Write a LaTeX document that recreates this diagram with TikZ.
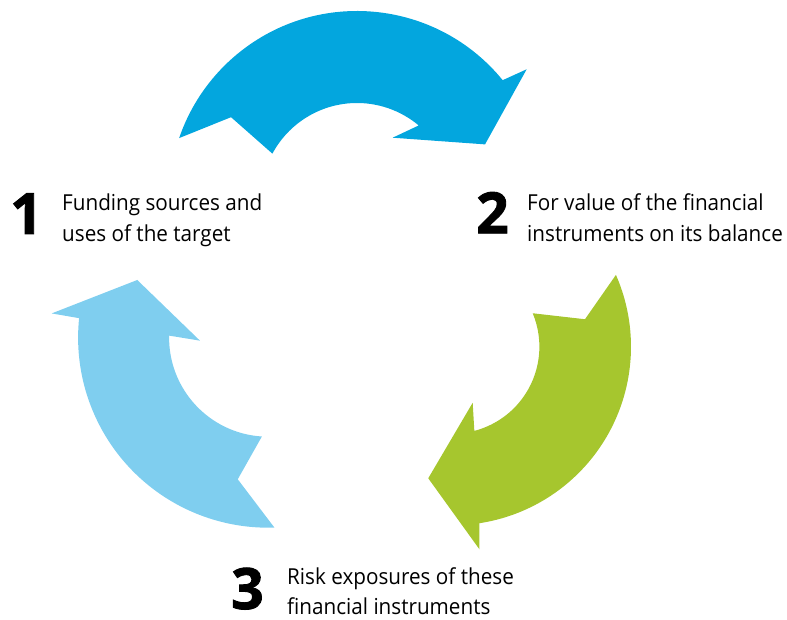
\documentclass[tikz,border=0pt]{standalone}
\usepackage{fontspec}
\setmainfont{Open Sans}
\newfontfamily\labelfont[FakeStretch=0.94]{Open Sans}
\newfontfamily\numfont[FakeBold=1.6]{Open Sans}
\definecolor{topblue}{RGB}{3,166,222}
\definecolor{lightblue}{RGB}{127,206,239}
\definecolor{leafgreen}{RGB}{166,198,46}
\begin{document}
\begin{tikzpicture}[x=1pt,y=1pt,
  numlabel/.style={anchor=base west,inner sep=0pt,font=\numfont\fontsize{57}{57}\selectfont\bfseries},
  txtlabel/.style={anchor=base west,inner sep=0pt,font=\labelfont\fontsize{22}{30}\selectfont}]
\useasboundingbox (0,0) rectangle (787,620);
% top arrow (1 -> 2)
\fill[topblue,shift={(357,421)}] (161.1:188) -- (147:150.2) -- (151.8:96)
  arc[start angle=151.8,end angle=50,radius=96] -- (59.8:70.9) -- (23.1:139.2)
  -- (37.4:213.6) -- (39.2:188) arc[start angle=39.2,end angle=161.1,radius=188] -- cycle;
% right arrow (2 -> 3)
\fill[leafgreen,shift={(452.4,273.3)}] (23.7:178.6) -- (11.7:135.4) -- (22.6:87)
  arc[start angle=22.6,end angle=-75.4,radius=87] -- (-70.1:59.6) -- (-100.4:133.8)
  -- (-82.4:204.4) -- (-81.3:178.6) arc[start angle=-81.3,end angle=23.7,radius=178.6] -- cycle;
% left arrow (3 -> 1)
\fill[lightblue,shift={(268.1,282.3)}] (-88.1:190) -- (-102.1:144.8) -- (-93.6:99)
  arc[start angle=-93.6,end angle=-181.2,radius=99] -- (-177.5:68.2) -- (-203.8:143)
  -- (-186.4:217.8) -- (-185.9:190) arc[start angle=-185.9,end angle=-88.1,radius=190] -- cycle;
% labels
\node[numlabel] (n1) at (10,386) {1};
\node[txtlabel] (t1a) at (62,409.3) {Funding sources and};
\node[txtlabel] (t1b) at (62,378.5) {uses of the target};
\node[numlabel] (n2) at (476,386.7) {2};
\node[txtlabel] (t2a) at (527,409.3) {For value of the financial};
\node[txtlabel] (t2b) at (527,378.5) {instruments on its balance};
\node[numlabel] (n3) at (231,11) {3};
\node[txtlabel] (t3a) at (287,35) {Risk exposures of these};
\node[txtlabel] (t3b) at (287,5) {financial instruments};
\end{tikzpicture}
\end{document}
